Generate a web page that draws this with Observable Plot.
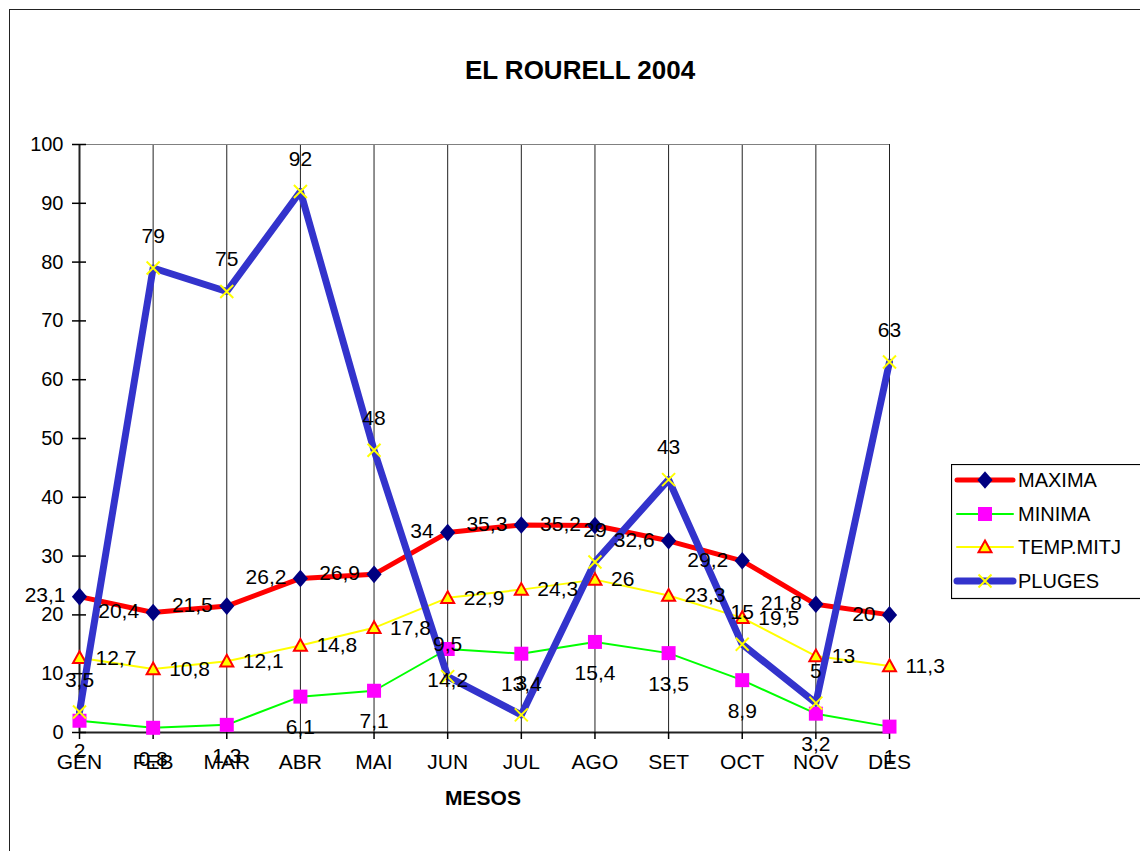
<!DOCTYPE html>
<html>
<head>
<meta charset="utf-8">
<script src="https://cdn.jsdelivr.net/npm/d3@7"></script>
<script src="https://cdn.jsdelivr.net/npm/@observablehq/plot@0.6"></script>
<style>
  body { margin:0; width:1140px; height:851px; overflow:hidden; position:relative; background:#fff; font-family:"Liberation Sans", Arial, sans-serif; }
  #chart { position:absolute; left:0; top:0; }
  .frame { position:absolute; left:9px; top:9px; width:1200px; height:900px; border:1.5px solid #222; box-sizing:border-box; pointer-events:none; }
  .title { position:absolute; left:380px; width:400px; top:54px; text-align:center; font-weight:bold; font-size:26px; line-height:32px; }
  .xtitle { position:absolute; left:383px; width:200px; top:785px; text-align:center; font-weight:bold; font-size:21px; line-height:26px; }
  #legend { position:absolute; left:951px; top:464px; }
</style>
</head>
<body>
<div id="chart"></div>
<div class="frame"></div>
<div class="title">EL ROURELL 2004</div>
<div class="xtitle">MESOS</div>
<div id="legend"></div>
<script>
const months = ["GEN","FEB","MAR","ABR","MAI","JUN","JUL","AGO","SET","OCT","NOV","DES"];
const maxima = [23.1,20.4,21.5,26.2,26.9,34,35.3,35.2,32.6,29.2,21.8,20];
const minima = [2,0.8,1.3,6.1,7.1,14.2,13.4,15.4,13.5,8.9,3.2,1];
const tempMitj = [12.7,10.8,12.1,14.8,17.8,22.9,24.3,26,23.3,19.5,13,11.3];
const pluges = [3.5,79,75,92,48,9.5,3,29,43,15,5,63];
const yTicks = [0,10,20,30,40,50,60,70,80,90,100];
const seriesNames = ["MAXIMA","MINIMA","TEMP.MITJ","PLUGES"];

const rows = arr => months.map((m, i) => ({month: m, v: arr[i]}));
const fmt = d => String(d).replace(".", ",");

const rad = size => Math.sqrt(size / Math.PI);
const diamond = {draw(c, s){ const r = rad(s); c.moveTo(0,-r*1.1); c.lineTo(r*0.95,0); c.lineTo(0,r*1.1); c.lineTo(-r*0.95,0); c.closePath(); }};
const square = {draw(c, s){ const r = rad(s); c.rect(-r,-r,2*r,2*r); }};
const triangle = {draw(c, s){ const r = rad(s); c.moveTo(0,-r); c.lineTo(r,r*0.8); c.lineTo(-r,r*0.8); c.closePath(); }};
const cross = {draw(c, s){ const r = rad(s); c.moveTo(-r,-r); c.lineTo(r,r); c.moveTo(r,-r); c.lineTo(-r,r); }};

const dMax = rows(maxima), dMin = rows(minima), dTemp = rows(tempMitj), dPl = rows(pluges);

const chart = Plot.plot({
  width: 1140,
  height: 851,
  marginLeft: 79,
  marginRight: 251,
  marginTop: 144,
  marginBottom: 119,
  style: {fontFamily: "Liberation Sans, Arial, sans-serif", fontSize: "20px", background: "transparent", color: "#000", overflow: "visible"},
  x: {type: "point", domain: months, padding: 0, round: false},
  y: {domain: [0, 100]},
  marks: [
    Plot.ruleX(months, {y1: 0, y2: 100, stroke: "#222", strokeWidth: 1}),
    Plot.ruleY([100], {stroke: "#808080", strokeWidth: 1}),
    Plot.ruleX(["GEN"], {y1: 0, y2: 100, stroke: "#222", strokeWidth: 2}),
    Plot.ruleY([0], {stroke: "#222", strokeWidth: 2}),
    Plot.axisY({ticks: yTicks, tickSize: 14, dx: 7, tickPadding: 9, tickFormat: d => String(d), label: null, fontSize: 20, strokeWidth: 1.5}),
    Plot.axisX({tickSize: 7, tickPadding: 15, label: null, fontSize: 21, strokeWidth: 1.5}),
    // MAXIMA
    Plot.line(dMax, {x: "month", y: "v", stroke: "#ff0000", strokeWidth: 5, strokeLinejoin: "round"}),
    Plot.dot(dMax, {x: "month", y: "v", symbol: diamond, r: 8, fill: "#000080", stroke: "none"}),
    // MINIMA
    Plot.line(dMin, {x: "month", y: "v", stroke: "#00ff00", strokeWidth: 2}),
    Plot.dot(dMin, {x: "month", y: "v", symbol: square, r: 7, fill: "#ff00ff", stroke: "none"}),
    // TEMP.MITJ
    Plot.line(dTemp, {x: "month", y: "v", stroke: "#ffff00", strokeWidth: 2}),
    Plot.dot(dTemp, {x: "month", y: "v", symbol: triangle, r: 6.5, fill: "#ffff00", stroke: "#ff0000", strokeWidth: 2}),
    // PLUGES
    Plot.line(dPl, {x: "month", y: "v", stroke: "#3333cc", strokeWidth: 7, strokeLinejoin: "round"}),
    Plot.dot(dPl, {x: "month", y: "v", symbol: cross, r: 6.5, fill: "none", stroke: "#ffff00", strokeWidth: 2}),
    // labels
    Plot.text(dMax, {x: "month", y: "v", text: d => fmt(d.v), textAnchor: "end", dx: -14, dy: -1, fontSize: 21, fill: "#000"}),
    Plot.text(dMin, {x: "month", y: "v", text: d => fmt(d.v), dy: 31, fontSize: 21, fill: "#000"}),
    Plot.text(dTemp, {x: "month", y: "v", text: d => fmt(d.v), textAnchor: "start", dx: 16, dy: 0, fontSize: 21, fill: "#000"}),
    Plot.text(dPl, {x: "month", y: "v", text: d => fmt(d.v), dy: -32, fontSize: 21, fill: "#000"})
  ]
});
document.getElementById("chart").appendChild(chart);

// Legend
const lg = d3.select("#legend").append("svg").attr("width", 200).attr("height", 136)
  .style("font-family", "Liberation Sans, Arial, sans-serif").style("font-size", "20px");
lg.append("rect").attr("x", 0.5).attr("y", 0.5).attr("width", 240).attr("height", 134)
  .attr("fill", "#fff").attr("stroke", "#000").attr("stroke-width", 1.2);
const styles = [
  {stroke: "#ff0000", w: 5, sym: diamond, r: 8, fill: "#000080", mstroke: "none", mw: 0},
  {stroke: "#00ff00", w: 2, sym: square, r: 7, fill: "#ff00ff", mstroke: "none", mw: 0},
  {stroke: "#ffff00", w: 2, sym: triangle, r: 6.5, fill: "#ffff00", mstroke: "#ff0000", mw: 2},
  {stroke: "#3333cc", w: 7, sym: cross, r: 6.5, fill: "none", mstroke: "#ffff00", mw: 2}
];
const ys = [16, 50, 83, 117];
seriesNames.forEach((name, i) => {
  const s = styles[i], y = ys[i];
  lg.append("line").attr("x1", 6).attr("x2", 62).attr("y1", y).attr("y2", y)
    .attr("stroke", s.stroke).attr("stroke-width", s.w).attr("stroke-linecap", "round");
  const p = d3.path(); s.sym.draw(p, Math.PI * s.r * s.r);
  lg.append("path").attr("d", p.toString()).attr("transform", `translate(34,${y})`)
    .attr("fill", s.fill).attr("stroke", s.mstroke).attr("stroke-width", s.mw);
  lg.append("text").attr("x", 67).attr("y", y).attr("dy", "0.35em").text(name);
});
</script>
</body>
</html>
